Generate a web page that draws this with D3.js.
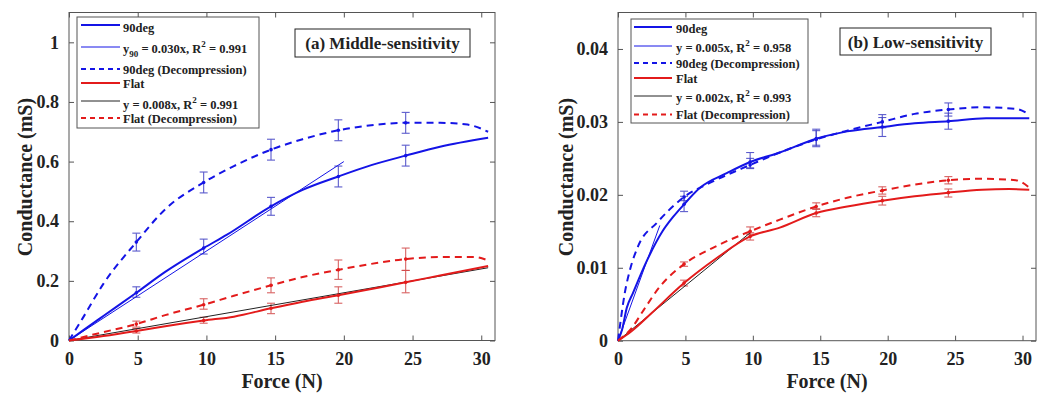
<!DOCTYPE html>
<html><head><meta charset="utf-8">
<script src="https://cdn.jsdelivr.net/npm/d3@7"></script>
<style>
body{margin:0;background:#fff;}
svg{display:block;}
text{font-family:"Liberation Serif","Times New Roman",Times,serif;font-weight:bold;fill:#222;}
</style>
</head><body>
<svg id="c" width="1051" height="394"></svg>
<script>
// ---------- shared ----------
const xTicks = [0, 5, 10, 15, 20, 25, 30];
const xTickLabels = ["0", "5", "10", "15", "20", "25", "30"];
const errX = [4.9, 9.8, 14.7, 19.6, 24.5];

// ---------- panel (a) Middle-sensitivity ----------
const aYTicks = [0, 0.2, 0.4, 0.6, 0.8, 1];
const aYTickLabels = ["0", "0.2", "0.4", "0.6", "0.8", "1"];

const a90X = [0, 1, 2.5, 4.9, 7, 9.8, 11.5, 14.7, 17, 19.6, 22, 24.5, 27, 30.5];
const a90Y = [0, 0.033, 0.082, 0.16, 0.23, 0.31, 0.355, 0.45, 0.505, 0.55, 0.588, 0.62, 0.65, 0.68];
const a90DX = [0, 1, 2.5, 4.9, 7, 9.8, 12, 14.7, 17, 19.6, 22, 24.5, 27, 29, 30.5];
const a90DY = [0, 0.075, 0.19, 0.33, 0.44, 0.53, 0.585, 0.64, 0.675, 0.705, 0.722, 0.73, 0.73, 0.724, 0.70];
const aFlatX = [0, 2.5, 4.9, 7, 9.8, 12, 14.7, 17, 19.6, 22, 24.5, 27, 30.5];
const aFlatY = [0, 0.015, 0.032, 0.048, 0.067, 0.08, 0.108, 0.13, 0.152, 0.173, 0.195, 0.218, 0.25];
const aFlatDX = [0, 2.5, 4.9, 7, 9.8, 12, 14.7, 17, 19.6, 22, 24.5, 27, 29.5, 30.5];
const aFlatDY = [0, 0.028, 0.055, 0.085, 0.12, 0.15, 0.185, 0.213, 0.237, 0.257, 0.273, 0.28, 0.28, 0.268];
const aFit90X = [0, 20];
const aFit90Y = [0, 0.60];
const aFitFlatX = [0, 30.5];
const aFitFlatY = [0, 0.244];

const aErr90Lo = [0.145, 0.29, 0.42, 0.515, 0.585];
const aErr90Hi = [0.18, 0.34, 0.48, 0.585, 0.655];
const aErr90DLo = [0.30, 0.495, 0.605, 0.67, 0.695];
const aErr90DHi = [0.36, 0.565, 0.675, 0.74, 0.765];
const aErrFlatLo = [0.025, 0.058, 0.09, 0.125, 0.16];
const aErrFlatHi = [0.04, 0.078, 0.125, 0.18, 0.235];
const aErrFlatDLo = [0.045, 0.105, 0.16, 0.205, 0.235];
const aErrFlatDHi = [0.065, 0.14, 0.21, 0.27, 0.31];

// ---------- panel (b) Low-sensitivity ----------
const bYTicks = [0, 0.01, 0.02, 0.03, 0.04];
const bYTickLabels = ["0", "0.01", "0.02", "0.03", "0.04"];

const b90X = [0, 0.3, 0.65, 1.1, 2.1, 3.3, 4.1, 4.9, 6.1, 8.1, 9.8, 12, 14.7, 17, 19.6, 22, 24.5, 27.3, 30.5];
const b90Y = [0, 0.0015, 0.0045, 0.0065, 0.0108, 0.0150, 0.0170, 0.0187, 0.021, 0.023, 0.0245, 0.0258, 0.0277, 0.0287, 0.0293, 0.0298, 0.0301, 0.0305, 0.0305];
const b90DX = [0, 0.2, 0.5, 0.9, 1.5, 2.9, 4.9, 7, 9.8, 12, 14.7, 17, 19.6, 22, 24.5, 27, 29.5, 30.5];
const b90DY = [0, 0.0028, 0.0065, 0.0098, 0.0130, 0.0162, 0.0197, 0.0218, 0.0241, 0.0258, 0.0276, 0.0288, 0.0300, 0.0311, 0.0317, 0.0320, 0.0318, 0.0310];
const bFlatX = [0, 1, 2.5, 4.9, 7.3, 9.8, 12, 14.7, 17, 19.6, 22, 24.5, 27, 29, 30.5];
const bFlatY = [0, 0.0013, 0.0038, 0.0079, 0.0113, 0.0143, 0.0155, 0.0175, 0.0184, 0.0192, 0.0198, 0.0203, 0.0207, 0.0208, 0.0207];
const bFlatDX = [0, 1, 1.9, 3.1, 4.9, 7, 9.8, 12, 14.7, 17, 19.6, 22, 24.5, 27, 29.5, 30.5];
const bFlatDY = [0, 0.0017, 0.0042, 0.0074, 0.0105, 0.0127, 0.015, 0.0166, 0.0184, 0.0196, 0.0206, 0.0214, 0.022, 0.0222, 0.022, 0.021];
const bFit90X = [0, 3.1];
const bFit90Y = [0, 0.0158];
const bFitFlatX = [0, 9.8];
const bFitFlatY = [0, 0.0148];

const bErr90Lo = [0.0177, 0.0236, 0.0266, 0.0280, 0.0290];
const bErr90Hi = [0.0198, 0.0258, 0.0290, 0.0306, 0.0312];
const bErr90DLo = [0.0192, 0.0237, 0.0268, 0.0292, 0.0308];
const bErr90DHi = [0.0205, 0.0250, 0.0288, 0.0310, 0.0326];
const bErrFlatLo = [0.0075, 0.0138, 0.0170, 0.0186, 0.0197];
const bErrFlatHi = [0.0083, 0.0148, 0.0181, 0.0198, 0.0208];
const bErrFlatDLo = [0.0102, 0.0146, 0.0180, 0.0201, 0.0215];
const bErrFlatDHi = [0.0108, 0.0156, 0.0189, 0.0211, 0.0225];

// ---------- styles ----------
const BLUE = "#1414e6", RED = "#e31b1b", BLACK = "#222";
const BLUE_ERR = "#3f3fc4", RED_ERR = "#d24848";
const AXIS = "#555";

const svg = d3.select("#c");

function zipXY(xs, ys) { return xs.map((x, i) => [x, ys[i]]); }

function panel(cfg) {
  const x = d3.scaleLinear().domain([0, 31]).range([cfg.left, cfg.right]);
  const y = d3.scaleLinear().domain([0, cfg.yMax]).range([cfg.bottom, cfg.top]);
  const g = svg.append("g");

  g.append("rect").attr("x", cfg.left).attr("y", cfg.top)
    .attr("width", cfg.right - cfg.left).attr("height", cfg.bottom - cfg.top)
    .attr("fill", "none").attr("stroke", AXIS).attr("stroke-width", 1);

  const styleAxis = sel => {
    sel.attr("font-family", null);
    sel.select(".domain").remove();
    sel.selectAll(".tick line").attr("stroke", AXIS);
    sel.selectAll(".tick text").style("font-size", "18px").attr("fill", "#222");
  };
  g.append("g").attr("transform", `translate(0,${cfg.bottom})`)
    .call(d3.axisBottom(x).tickValues(xTicks).tickFormat((d, i) => xTickLabels[i]).tickSizeInner(-5).tickSizeOuter(0).tickPadding(12))
    .call(styleAxis);
  g.append("g").attr("transform", `translate(0,${cfg.top})`)
    .call(d3.axisTop(x).tickValues(xTicks).tickFormat("").tickSizeInner(-5).tickSizeOuter(0))
    .call(styleAxis);
  g.append("g").attr("transform", `translate(${cfg.left},0)`)
    .call(d3.axisLeft(y).tickValues(cfg.yTicks).tickFormat((d, i) => cfg.yTickLabels[i]).tickSizeInner(-5).tickSizeOuter(0).tickPadding(10))
    .call(styleAxis);
  g.append("g").attr("transform", `translate(${cfg.right},0)`)
    .call(d3.axisRight(y).tickValues(cfg.yTicks).tickFormat("").tickSizeInner(-5).tickSizeOuter(0))
    .call(styleAxis);

  g.append("text").attr("x", (cfg.left + cfg.right) / 2).attr("y", 388)
    .attr("text-anchor", "middle").style("font-size", "20px").text("Force (N)");
  g.append("text").attr("transform", `translate(${cfg.ylabX},177) rotate(-90)`)
    .attr("text-anchor", "middle").style("font-size", "20px").text("Conductance (mS)");

  const line = d3.line().x(d => x(d[0])).y(d => y(d[1])).curve(d3.curveMonotoneX);
  const plot = g.append("g");

  cfg.errs.forEach(e => {
    const eg = plot.append("g").attr("stroke", e.color).attr("stroke-width", 1.1).attr("opacity", 0.85);
    errX.forEach((ex, i) => {
      const px = x(ex);
      eg.append("line").attr("x1", px).attr("x2", px).attr("y1", y(e.lo[i])).attr("y2", y(e.hi[i]));
      eg.append("line").attr("x1", px - 4).attr("x2", px + 4).attr("y1", y(e.lo[i])).attr("y2", y(e.lo[i]));
      eg.append("line").attr("x1", px - 4).attr("x2", px + 4).attr("y1", y(e.hi[i])).attr("y2", y(e.hi[i]));
    });
  });

  cfg.series.forEach(s => {
    plot.append("path").datum(zipXY(s.x, s.y))
      .attr("fill", "none").attr("stroke", s.color).attr("stroke-width", s.w)
      .attr("stroke-dasharray", s.dash || null).attr("d", line);
    if (s.dots) {
      s.x.forEach((xx, i) => {
        if (errX.includes(xx)) plot.append("circle").attr("cx", x(xx)).attr("cy", y(s.y[i])).attr("r", 1.8).attr("fill", s.color);
      });
    }
  });

  const L = cfg.legend;
  g.append("rect").attr("x", L.x0).attr("y", L.y0).attr("width", L.x1 - L.x0).attr("height", L.y1 - L.y0)
    .attr("fill", "#fff").attr("stroke", AXIS).attr("stroke-width", 1);
  L.items.forEach(it => {
    g.append("line").attr("x1", L.lx0).attr("x2", L.lx1).attr("y1", it.ly).attr("y2", it.ly)
      .attr("stroke", it.color).attr("stroke-width", it.w).attr("stroke-dasharray", it.dash || null);
    const t = g.append("text").attr("x", L.tx).attr("y", it.ty).style("font-size", "12.5px");
    it.parts.forEach(p => {
      const ts = t.append("tspan").text(p.t);
      if (p.dy) ts.attr("dy", p.dy);
      if (p.fs) ts.style("font-size", p.fs);
    });
  });

  const T = cfg.title;
  g.append("rect").attr("x", T.x0).attr("y", T.y0).attr("width", T.x1 - T.x0).attr("height", T.y1 - T.y0)
    .attr("fill", "#fff").attr("stroke", "#222").attr("stroke-width", 1);
  g.append("text").attr("x", (T.x0 + T.x1) / 2).attr("y", T.by).attr("text-anchor", "middle")
    .style("font-size", "17px").text(T.text);
}

function fitParts(pre, sub, rest1, r2) {
  const parts = [{ t: pre }];
  if (sub) { parts.push({ t: sub, dy: 4, fs: "9px" }); parts.push({ t: rest1, dy: -4 }); }
  else parts.push({ t: rest1 });
  parts.push({ t: "2", dy: -6, fs: "9px" });
  parts.push({ t: r2, dy: 6 });
  return parts;
}

panel({
  left: 69, right: 495, top: 12.5, bottom: 340.5, yMax: 1.1,
  yTicks: aYTicks, yTickLabels: aYTickLabels, ylabX: 32,
  series: [
    { x: aFit90X, y: aFit90Y, color: BLUE, w: 1 },
    { x: aFitFlatX, y: aFitFlatY, color: BLACK, w: 1 },
    { x: a90X, y: a90Y, color: BLUE, w: 2, dots: true },
    { x: a90DX, y: a90DY, color: BLUE, w: 2, dash: "7,5", dots: true },
    { x: aFlatX, y: aFlatY, color: RED, w: 2, dots: true },
    { x: aFlatDX, y: aFlatDY, color: RED, w: 2, dash: "7,5", dots: true }
  ],
  errs: [
    { lo: aErr90Lo, hi: aErr90Hi, color: BLUE_ERR },
    { lo: aErr90DLo, hi: aErr90DHi, color: BLUE_ERR },
    { lo: aErrFlatLo, hi: aErrFlatHi, color: RED_ERR },
    { lo: aErrFlatDLo, hi: aErrFlatDHi, color: RED_ERR }
  ],
  legend: {
    x0: 77, x1: 259, y0: 17, y1: 128, lx0: 81, lx1: 120, tx: 123,
    items: [
      { ly: 25, ty: 32, color: BLUE, w: 2, parts: [{ t: "90deg" }] },
      { ly: 47, ty: 53, color: BLUE, w: 1, parts: fitParts("y", "90", " = 0.030x, R", " = 0.991") },
      { ly: 69, ty: 74, color: BLUE, w: 2, dash: "5,4", parts: [{ t: "90deg (Decompression)" }] },
      { ly: 83, ty: 88, color: RED, w: 2, parts: [{ t: "Flat" }] },
      { ly: 101, ty: 109, color: BLACK, w: 1, parts: fitParts("y = 0.008x, R", null, "", " = 0.991") },
      { ly: 118, ty: 123, color: RED, w: 2, dash: "5,4", parts: [{ t: "Flat (Decompression)" }] }
    ]
  },
  title: { x0: 295, x1: 470, y0: 29, y1: 57, by: 49, text: "(a) Middle-sensitivity" }
});

panel({
  left: 618, right: 1036, top: 12.5, bottom: 340.7, yMax: 0.045,
  yTicks: bYTicks, yTickLabels: bYTickLabels, ylabX: 573,
  series: [
    { x: bFit90X, y: bFit90Y, color: BLUE, w: 1 },
    { x: bFitFlatX, y: bFitFlatY, color: BLACK, w: 1 },
    { x: b90X, y: b90Y, color: BLUE, w: 2, dots: true },
    { x: b90DX, y: b90DY, color: BLUE, w: 2, dash: "7,5", dots: true },
    { x: bFlatX, y: bFlatY, color: RED, w: 2, dots: true },
    { x: bFlatDX, y: bFlatDY, color: RED, w: 2, dash: "7,5", dots: true }
  ],
  errs: [
    { lo: bErr90Lo, hi: bErr90Hi, color: BLUE_ERR },
    { lo: bErr90DLo, hi: bErr90DHi, color: BLUE_ERR },
    { lo: bErrFlatLo, hi: bErrFlatHi, color: RED_ERR },
    { lo: bErrFlatDLo, hi: bErrFlatDHi, color: RED_ERR }
  ],
  legend: {
    x0: 631, x1: 808, y0: 19, y1: 123, lx0: 634, lx1: 672, tx: 676,
    items: [
      { ly: 27, ty: 33, color: BLUE, w: 2, parts: [{ t: "90deg" }] },
      { ly: 46, ty: 52, color: BLUE, w: 1, parts: fitParts("y = 0.005x, R", null, "", " = 0.958") },
      { ly: 63, ty: 68, color: BLUE, w: 2, dash: "5,4", parts: [{ t: "90deg (Decompression)" }] },
      { ly: 78, ty: 83, color: RED, w: 2, parts: [{ t: "Flat" }] },
      { ly: 96, ty: 102, color: BLACK, w: 1, parts: fitParts("y = 0.002x, R", null, "", " = 0.993") },
      { ly: 114.5, ty: 119, color: RED, w: 2, dash: "5,4", parts: [{ t: "Flat (Decompression)" }] }
    ]
  },
  title: { x0: 840, x1: 991, y0: 28, y1: 55, by: 48, text: "(b) Low-sensitivity" }
});
</script>
</body></html>
